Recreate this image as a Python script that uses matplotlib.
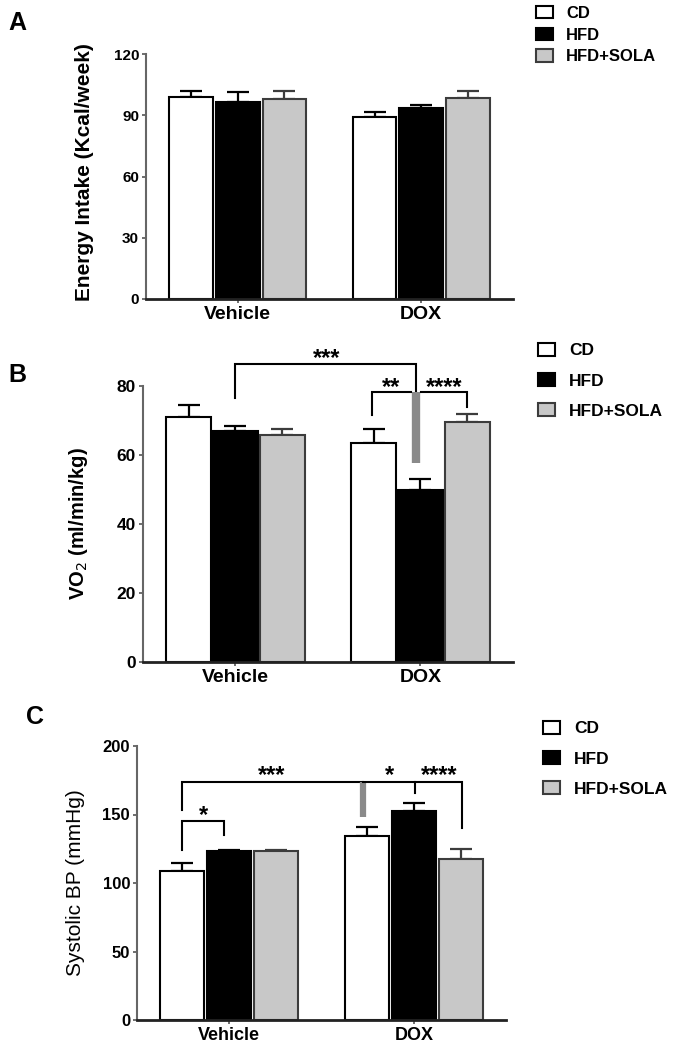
import numpy as np
import matplotlib
matplotlib.use('Agg')
import matplotlib.pyplot as plt
from matplotlib.patches import Patch

plt.rcParams['font.family'] = ['Liberation Sans', 'DejaVu Sans']

groups = ["Vehicle", "DOX"]
diets = ["CD", "HFD", "HFD+SOLA"]

# Panel A: energy intake (Kcal/week), rows = diet, cols = group
intake_mean = [[98.8, 89.0], [96.6, 93.4], [97.8, 98.3]]
intake_err = [[3.2, 2.8], [4.9, 1.6], [4.2, 3.7]]

# Panel B: VO2 (ml/min/kg)
vo2_mean = [[71.1, 63.5], [67.0, 50.0], [65.8, 69.6]]
vo2_err = [[3.4, 4.0], [1.4, 3.0], [1.7, 2.3]]

# Panel C: systolic BP (mmHg)
bp_mean = [[109.0, 134.3], [123.5, 152.6], [123.0, 117.5]]
bp_err = [[5.5, 6.7], [0.8, 5.9], [0.8, 7.3]]

fills = ["white", "black", "#c8c8c8"]
edges = ["black", "black", "#3c3c3c"]
err_cols = ["black", "black", "#3c3c3c"]

W, H = 674, 1050
fig = plt.figure(figsize=(W / 100, H / 100), dpi=100)


def px_axes(left, right, top, bottom):
    return fig.add_axes([left / W, 1 - bottom / H, (right - left) / W, (bottom - top) / H])


width = 0.238
step = 0.254
x = np.arange(len(groups))


def draw_bars(ax, means, errs, ymax, yticks, ylabel, tick_fs, xlab_fs, ylab_fs, label_bold=True):
    for i in range(len(diets)):
        xs = x + (i - 1) * step
        ax.bar(xs, means[i], width, color=fills[i], edgecolor=edges[i], linewidth=1.5, zorder=2)
        ax.errorbar(xs, means[i], yerr=[np.zeros(len(groups)), errs[i]], fmt='none',
                    ecolor=err_cols[i], elinewidth=1.6, capsize=8, capthick=1.6, zorder=1)
    ax.set_xlim(-0.5, 1.5)
    ax.set_ylim(0, ymax)
    ax.set_yticks(yticks)
    ax.set_xticks(x)
    ax.set_xticklabels(groups, fontsize=xlab_fs, fontweight='bold')
    for lab in ax.get_yticklabels():
        lab.set_fontsize(tick_fs)
        lab.set_fontweight('bold')
    ax.tick_params(axis='y', length=3, width=1.2, colors='#555555', labelcolor='black', pad=2)
    ax.tick_params(axis='x', length=3, width=1.2, colors='#555555', labelcolor='black', pad=2)
    for s in ['top', 'right']:
        ax.spines[s].set_visible(False)
    ax.spines['left'].set_linewidth(1.5)
    ax.spines['left'].set_color('#666666')
    ax.spines['bottom'].set_linewidth(2.0)
    ax.spines['bottom'].set_color('#222222')
    ax.set_ylabel(ylabel, fontsize=ylab_fs, fontweight='bold' if label_bold else 'normal')


def bracket(ax, x0, x1, y, y0, y1, color='black', lw=1.5):
    ax.plot([x0, x0, x1, x1], [y0, y, y, y1], color=color, lw=lw, clip_on=False, zorder=3,
            solid_joinstyle='miter')


def stars(ax, xc, y, txt, fs=17):
    # y is the visual centre of the asterisks
    ax.annotate(txt, (xc, y), xytext=(0, -0.55 * fs), textcoords='offset points',
                ha='center', va='baseline', fontsize=fs, fontweight='bold', annotation_clip=False)


def add_legend(left_px, top_px, spacing, fs):
    handles = [Patch(facecolor=fills[i], edgecolor=edges[i], linewidth=1.5) for i in range(3)]
    fig.legend(handles, diets, loc='upper left', bbox_to_anchor=(left_px / W, 1 - top_px / H),
               frameon=False, borderaxespad=0, borderpad=0, handlelength=1.0, handleheight=0.75,
               handletextpad=0.8, labelspacing=spacing, prop={'weight': 'bold', 'size': fs})


# Panel A
axA = px_axes(146, 513, 54, 299)
draw_bars(axA, intake_mean, intake_err, 120, [0, 30, 60, 90, 120], "Energy Intake (Kcal/week)",
          tick_fs=11, xlab_fs=14, ylab_fs=15)
axA.yaxis.set_label_coords(-0.142, 0.52)
fig.text(17 / W, 1 - 23 / H, "A", fontsize=18, fontweight='bold', ha='center', va='center')
add_legend(536, 6, 0.4, 12)

# Panel B
axB = px_axes(143, 513, 386, 662)
draw_bars(axB, vo2_mean, vo2_err, 80, [0, 20, 40, 60, 80], "VO$_2$ (ml/min/kg)",
          tick_fs=12.5, xlab_fs=14, ylab_fs=14.5)
axB.yaxis.set_label_coords(-0.143, 0.5)
fig.text(17 / W, 1 - 375 / H, "B", fontsize=18, fontweight='bold', ha='center', va='center')
bracket(axB, 0, 0.978, 86.4, 76.6, 78.3)
axB.plot([0.978, 0.978], [78.3, 57.7], color='#8a8a8a', lw=6, clip_on=False, zorder=3,
         solid_capstyle='butt')
bracket(axB, 0.74, 0.95, 78.3, 71.6, 78.3)
bracket(axB, 1.005, 1.25, 78.3, 78.3, 74.0)
stars(axB, 0.49, 89.9, "***")
stars(axB, 0.843, 81.4, "**")
stars(axB, 1.13, 81.4, "****")
add_legend(538, 343, 0.85, 12.5)

# Panel C
axC = px_axes(137, 506, 746, 1020)
draw_bars(axC, bp_mean, bp_err, 200, [0, 50, 100, 150, 200], "Systolic BP (mmHg)",
          tick_fs=12, xlab_fs=13, ylab_fs=15, label_bold=False)
axC.yaxis.set_label_coords(-0.14, 0.5)
fig.text(35 / W, 1 - 717 / H, "C", fontsize=18, fontweight='bold', ha='center', va='center')
bracket(axC, -0.256, 0.725, 173.7, 153.0, 173.7)
axC.plot([0.725, 0.725], [173.7, 148.0], color='#8a8a8a', lw=4.5, clip_on=False, zorder=3,
         solid_capstyle='butt')
bracket(axC, -0.256, -0.027, 145.0, 124.0, 135.0)
bracket(axC, 0.725, 1.264, 173.7, 173.7, 140.0)
axC.plot([1.008, 1.008], [173.7, 166.0], color='black', lw=1.5, clip_on=False, zorder=3)
stars(axC, 0.229, 183.0, "***")
stars(axC, -0.14, 154.0, "*")
stars(axC, 0.866, 183.0, "*")
stars(axC, 1.139, 183.0, "****")
add_legend(543, 721, 0.85, 12.5)

fig.savefig("out.png", dpi=100, facecolor='white')
